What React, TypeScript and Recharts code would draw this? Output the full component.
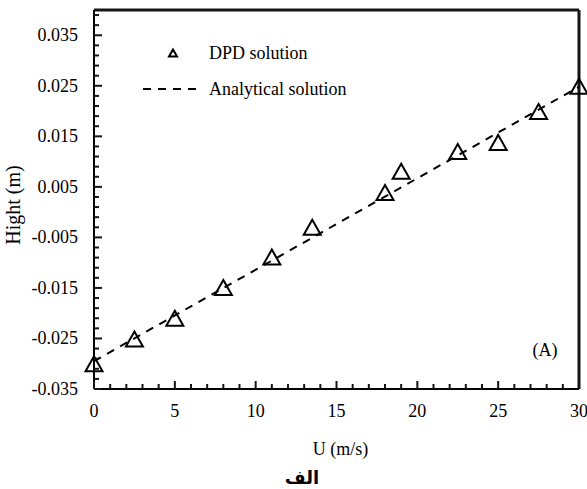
import { ScatterChart, Scatter, XAxis, YAxis, ReferenceLine, ReferenceDot, Legend, Label } from 'recharts';

const SERIF = "'Liberation Serif', 'Times New Roman', serif";

// DPD solution (triangles)
const uDpd = [0, 2.5, 5, 8, 11, 13.5, 18, 19, 22.5, 25, 27.5, 30];
const hDpd = [-0.03, -0.0251, -0.021, -0.0149, -0.0089, -0.003, 0.0039, 0.0081, 0.012, 0.0138, 0.0199, 0.0249];

// Analytical solution (dashed straight line)
const uAnalytical = [0, 30];
const hAnalytical = [-0.0295, 0.0248];

// minor ticks every 1 on U, every 0.002 on height; labels only on the majors
const xTicks = Array.from({ length: 31 }, (_, i) => i);
const yTicks = Array.from({ length: 38 }, (_, i) => (-35 + 2 * i) / 1000);

const dpdData = uDpd.map((u, i) => ({ u, h: hDpd[i] }));
const analyticalData = uAnalytical.map((u, i) => ({ u, h: hAnalytical[i] }));

const INK = '#141414';

function XTick(props: any) {
  const { x, y, payload } = props;
  const major = payload.value % 5 === 0;
  return (
    <g>
      <path d={`M${x},${y} V${y - (major ? 8 : 5)}`} stroke={INK} strokeWidth={2} />
      {major && (
        <text x={x} y={y + 28} textAnchor="middle" fontFamily={SERIF} fontSize={18} fill="#000">
          {payload.value}
        </text>
      )}
    </g>
  );
}

function YTick(props: any) {
  const { x, y, payload } = props;
  const k = Math.round(payload.value * 1000);
  const major = Math.abs(k) % 10 === 5;
  return (
    <g>
      <path d={`M${x},${y} H${x + (major ? 8 : 5)}`} stroke={INK} strokeWidth={2} />
      {major && (
        <text x={x - 16} y={y + 6} textAnchor="end" fontFamily={SERIF} fontSize={18} fill="#000">
          {(k / 1000).toFixed(3)}
        </text>
      )}
    </g>
  );
}

function Triangle(props: any) {
  const { cx, cy } = props;
  const w = 17;
  const h = 15;
  return (
    <path
      d={`M${cx},${cy - h / 2} L${cx + w / 2},${cy + h / 2} L${cx - w / 2},${cy + h / 2} Z`}
      fill="none"
      stroke="#000"
      strokeWidth={2}
    />
  );
}

function LegendBox() {
  return (
    <svg width={230} height={62} style={{ display: 'block' }}>
      <path d="M43,9.5 L47,16.5 L39,16.5 Z" fill="none" stroke="#000" strokeWidth={2} />
      <text x={79} y={19} fontFamily={SERIF} fontSize={18} fill="#000">DPD solution</text>
      <line x1={13} y1={49} x2={68} y2={49} stroke="#000" strokeWidth={2} strokeDasharray="8 7" />
      <text x={79} y={55} fontFamily={SERIF} fontSize={18} fill="#000">Analytical solution</text>
    </svg>
  );
}

function YTitle(props: any) {
  const { viewBox } = props;
  const x = viewBox.x - 14;
  const y = viewBox.y + viewBox.height / 2 + 5.5;
  return (
    <text x={x} y={y} transform={`rotate(-90 ${x} ${y})`} textAnchor="middle" fontFamily={SERIF} fontSize={20} fill="#000">
      Hight (m)
    </text>
  );
}

const AXIS_LINE = { stroke: '#000', strokeWidth: 2 };

export default function App() {
  return (
    <div style={{ position: 'absolute', left: 0, top: 0, width: 587, height: 489, background: '#fff' }}>
      <ScatterChart width={587} height={489} margin={{ top: 10, right: 8, bottom: 30, left: 34 }}>
        <XAxis
          type="number"
          dataKey="u"
          domain={[0, 30]}
          ticks={xTicks}
          interval={0}
          tickSize={0}
          tickMargin={0}
          axisLine={AXIS_LINE}
          tick={XTick}
          height={70}
        >
          <Label value="U (m/s)" position="insideBottom" offset={4} dx={4} fontFamily={SERIF} fontSize={18} fill="#000" />
        </XAxis>
        <YAxis
          type="number"
          dataKey="h"
          domain={[-0.035, 0.04]}
          ticks={yTicks}
          interval={0}
          tickSize={0}
          tickMargin={0}
          axisLine={AXIS_LINE}
          tick={YTick}
          width={60}
        >
          <Label content={YTitle} />
        </YAxis>
        <ReferenceLine y={0.04} stroke={INK} strokeWidth={3} ifOverflow="visible" />
        <ReferenceLine x={30} stroke={INK} strokeWidth={3} ifOverflow="visible" />
        <ReferenceDot
          x={27.9}
          y={-0.0273}
          r={0}
          fill="none"
          stroke="none"
          label={{ value: '(A)', position: 'center', fontFamily: SERIF, fontSize: 18, fill: '#000' }}
        />
        <Legend
          layout="vertical"
          align="center"
          verticalAlign="middle"
          content={LegendBox}
          wrapperStyle={{ left: 130, top: 40, width: 230, height: 62 }}
        />
        <Scatter
          name="Analytical solution"
          data={analyticalData}
          line={{ stroke: '#000', strokeWidth: 2, strokeDasharray: '8 7' }}
          lineType="joint"
          shape={() => <g />}
          isAnimationActive={false}
        />
        <Scatter name="DPD solution" data={dpdData} shape={Triangle} isAnimationActive={false} />
      </ScatterChart>
      <div
        style={{
          position: 'absolute',
          left: 262,
          top: 467,
          width: 80,
          textAlign: 'center',
          fontFamily: "'DejaVu Sans', sans-serif",
          fontWeight: 'bold',
          fontSize: 18,
          lineHeight: '21px',
          direction: 'rtl',
        }}
      >
        الف
      </div>
    </div>
  );
}
